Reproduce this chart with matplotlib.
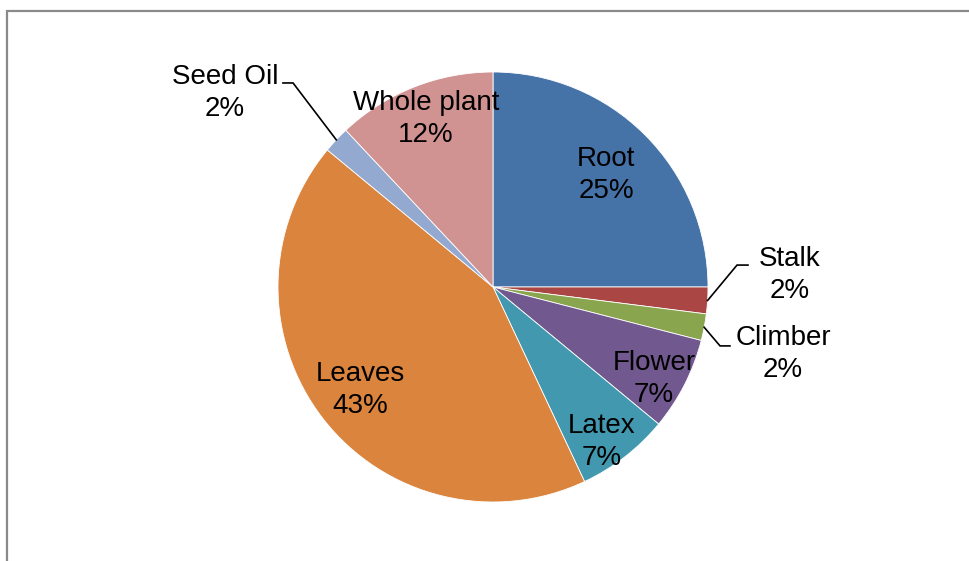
import numpy as np
import matplotlib
matplotlib.use("Agg")
import matplotlib.pyplot as plt
from matplotlib.patches import Rectangle

# Plant parts used (share of records, %)
parts = ["Root", "Stalk", "Climber", "Flower", "Latex", "Leaves", "Seed Oil", "Whole plant"]
shares = [25, 2, 2, 7, 7, 43, 2, 12]
slice_colors = ["#4572A7", "#AA4643", "#89A54E", "#71588F",
                "#4198AF", "#DB843D", "#93A9CF", "#D19392"]

W, H, DPI = 969, 561, 100
fig = plt.figure(figsize=(W / DPI, H / DPI), dpi=DPI)
fig.patch.set_facecolor("white")

# chart-area frame (open on the right and bottom edges)
fig.patches.append(Rectangle((7 / W, -0.1), 1.2, 1.1 - 10.5 / H,
                             transform=fig.transFigure, fill=False,
                             edgecolor="#8a8a8a", linewidth=1.6))

cx, cy, R = 493, 287, 215  # pie centre and radius in pixels
ax = fig.add_axes([(cx - R) / W, (H - cy - R) / H, 2 * R / W, 2 * R / H])

wedges, _ = ax.pie(shares, colors=slice_colors, startangle=90,
                   counterclock=False, radius=1.0,
                   wedgeprops=dict(edgecolor="white", linewidth=0.6))
ax.set_xlim(-1, 1)
ax.set_ylim(-1, 1)
ax.set_aspect("equal")
ax.axis("off")

font = dict(family=["Liberation Sans", "DejaVu Sans"], fontsize=20,
            color="black", ha="center", va="center", linespacing=1.32)

# label centres (data units) and leader-line elbows for the outside labels
label_pos = {
    "Root": (0.526, 0.520),
    "Stalk": (1.381, 0.055),
    "Climber": (1.349, -0.312),
    "Flower": (0.749, -0.429),
    "Latex": (0.507, -0.722),
    "Leaves": (-0.619, -0.480),
    "Seed Oil": (-1.247, 0.902),
    "Whole plant": (-0.312, 0.781),
}
leaders = {
    "Stalk": [(1.135, 0.102), (1.186, 0.102)],
    "Climber": [(1.056, -0.274), (1.102, -0.274)],
    "Seed Oil": [(-0.930, 0.949), (-0.977, 0.949)],
}

for w, name, val in zip(wedges, parts, shares):
    x, y = label_pos[name]
    ax.text(x, y, f"{name}\n{val}%", **font)
    if name in leaders:
        mid = np.deg2rad((w.theta1 + w.theta2) / 2)
        pts = [(np.cos(mid), np.sin(mid))] + leaders[name]
        xs, ys = zip(*pts)
        ax.plot(xs, ys, color="black", linewidth=1.2, clip_on=False,
                solid_joinstyle="miter")

fig.savefig("out.png", dpi=DPI)
